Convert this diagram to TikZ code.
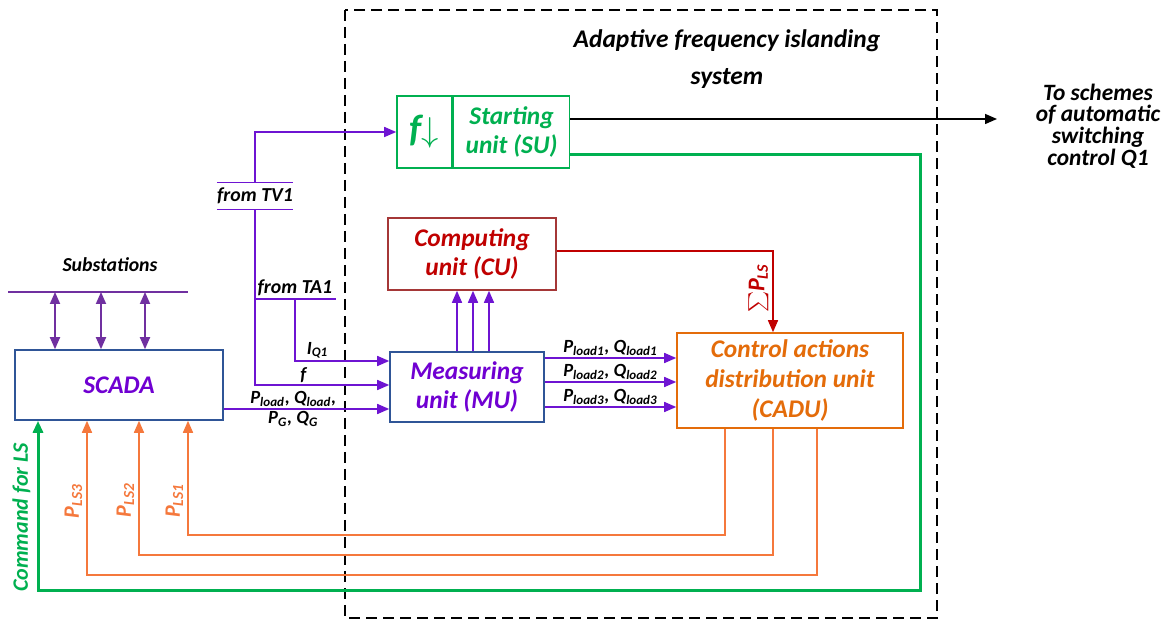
\documentclass[tikz,border=0pt]{standalone}
\usepackage{fontspec}
\setmainfont{Carlito}
\usepackage{xcolor}
\usepackage{tikz}
\usetikzlibrary{arrows.meta}
\definecolor{boxblue}{RGB}{47,85,151}
\definecolor{textviolet}{RGB}{112,0,210}
\definecolor{sigviolet}{RGB}{110,20,210}
\definecolor{subviolet}{RGB}{112,48,160}
\definecolor{sugreen}{RGB}{0,176,80}
\definecolor{cuborder}{RGB}{165,55,55}
\definecolor{cured}{RGB}{192,0,0}
\definecolor{caduorange}{RGB}{228,108,10}
\definecolor{lsorange}{RGB}{245,120,60}

\begin{document}
\begin{tikzpicture}[x=0.5pt, y=-0.5pt,
  >={Triangle[length=6pt,width=5pt]},
  unitbox/.style={draw, rectangle, line width=0.8pt, inner sep=0pt, align=center,
    font=\fontsize{12.7}{14.8}\selectfont\bfseries\itshape},
  smalltext/.style={font=\fontsize{9.9}{11}\selectfont\bfseries\itshape},
  siglabel/.style={font=\fontsize{9.3}{10}\selectfont\bfseries\itshape, inner sep=1pt},
  ratedlabel/.style={rotate=90, anchor=south, inner sep=2pt, font=\fontsize{11}{12}\selectfont\bfseries\itshape},
  signal/.style={->, draw=sigviolet, line width=0.75pt},
  lsline/.style={->, draw=lsorange, line width=0.75pt}]
\fill[white] (0,0) rectangle (1167,619);
\useasboundingbox (0,0) rectangle (1167,619);

% system border
\draw[line width=0.6pt, dash pattern=on 5.5pt off 3pt] (345,10) rectangle (937,618);
\node[font=\fontsize{12.7}{18.5}\selectfont\bfseries\itshape, align=center] (title) at (727,59) {Adaptive frequency islanding\\system};

% units
\node[unitbox, draw=boxblue, text=textviolet, minimum width=104pt, minimum height=35pt] (scada) at (119,385) {SCADA};
\node[unitbox, draw=boxblue, text=textviolet, minimum width=77pt, minimum height=35pt] (mu) at (467,387) {Measuring\\unit (MU)};
\node[unitbox, draw=cuborder, text=cured, minimum width=84pt, minimum height=36pt] (cu) at (472,254) {Computing\\unit (CU)};
\node[unitbox, draw=sugreen, text=sugreen, minimum width=27.5pt, minimum height=36pt, font=\fontsize{19}{19}\selectfont\bfseries\itshape] (suf) at (424.5,132) {f$\downarrow$};
\node[unitbox, draw=sugreen, text=sugreen, minimum width=58pt, minimum height=36pt, anchor=west] (su) at (suf.east) {Starting\\unit (SU)};
\node[unitbox, draw=caduorange, text=caduorange, minimum width=113pt, minimum height=47.5pt] (cadu) at (790,380.5) {Control actions\\distribution unit\\(CADU)};
\node[font=\fontsize{11.7}{10.9}\selectfont\bfseries\itshape, align=center] (out) at (1098,126) {To schemes\\of automatic\\switching\\control Q1};

% substations
\node[smalltext] (subs) at (110,265) {Substations};
\coordinate (busW) at (8,292);
\coordinate (busE) at (188,292);
\draw[subviolet, line width=0.9pt] (busW) -- (busE);
\foreach \x in {55,101,145}
  \draw[<->, subviolet, line width=0.9pt] (\x,0 |- busW) -- (\x,0 |- scada.north);

% measurements
\node[smalltext, minimum width=33pt, minimum height=13pt, inner sep=0pt] (tv1) at (255,196) {from TV1};
\node[smalltext, minimum width=33pt, inner sep=1.5pt, anchor=south] (ta1) at (295,299) {from TA1};
\draw[sigviolet, line width=0.75pt] (tv1.north west) -- (tv1.north east) (tv1.south west) -- (tv1.south east);
\draw[sigviolet, line width=0.75pt] (ta1.south west) -- (ta1.south east);
\draw[signal] (tv1.north) |- (suf.west);
\draw[signal] (tv1.south) |- ([yshift=1pt]mu.west) node[siglabel, pos=0.68, above] {f};
\draw[signal] (ta1.south) |- ([yshift=13pt]mu.west) node[siglabel, pos=0.62, above] {I\textsubscript{Q1}};
\draw[signal] ([yshift=-12pt]scada.east) -- ([yshift=-12pt]scada.east -| mu.west)
  node[siglabel, pos=0.42, above] {P\textsubscript{load}, Q\textsubscript{load},}
  node[siglabel, pos=0.42, below] {P\textsubscript{G}, Q\textsubscript{G}};
\foreach \dy/\n in {14.5/1, 2.5/2, -10/3}
  \draw[signal] ([yshift=\dy pt]mu.east) -- ([yshift=\dy pt]mu.east -| cadu.west)
    node[siglabel, midway, above] {P\textsubscript{load\n}, Q\textsubscript{load\n}};
\foreach \dx in {-5,3,11}
  \draw[signal] ([xshift=\dx pt]mu.north) -- ([xshift=\dx pt]mu.north |- cu.south);

% control actions
\draw[->, cured, line width=0.75pt] ([yshift=1.5pt]cu.east) -| ([xshift=-8.5pt]cadu.north)
  node[ratedlabel, pos=0.73, text=cured, font=\fontsize{12}{12}\selectfont\bfseries\itshape] {$\sum$P\textsubscript{LS}};
\foreach \dx/\yy/\xx/\n/\p in {-32.5/535/188/1/0.30, -8.5/555/139/2/0.41, 13.5/575/87/3/0.48} {
  \coordinate (ls\n) at (\xx,\yy);
  \draw[lsline] ([xshift=\dx pt]cadu.south) |- (ls\n) -- (ls\n |- scada.south)
    node[ratedlabel, pos=\p, text=lsorange] {P\textsubscript{LS\n}};
}
\coordinate (cmdturn) at (920,591);
\draw[->, sugreen, line width=1.5pt] ([yshift=-11.5pt]su.east) -| (cmdturn) -| (38,0 |- scada.south)
  node[ratedlabel, pos=0.716, inner sep=3pt, text=sugreen] {Command for LS};
\coordinate (outend) at (997,119);
\draw[->, line width=0.75pt] ([yshift=6.5pt]su.east) -- (outend);
\end{tikzpicture}
\end{document}
